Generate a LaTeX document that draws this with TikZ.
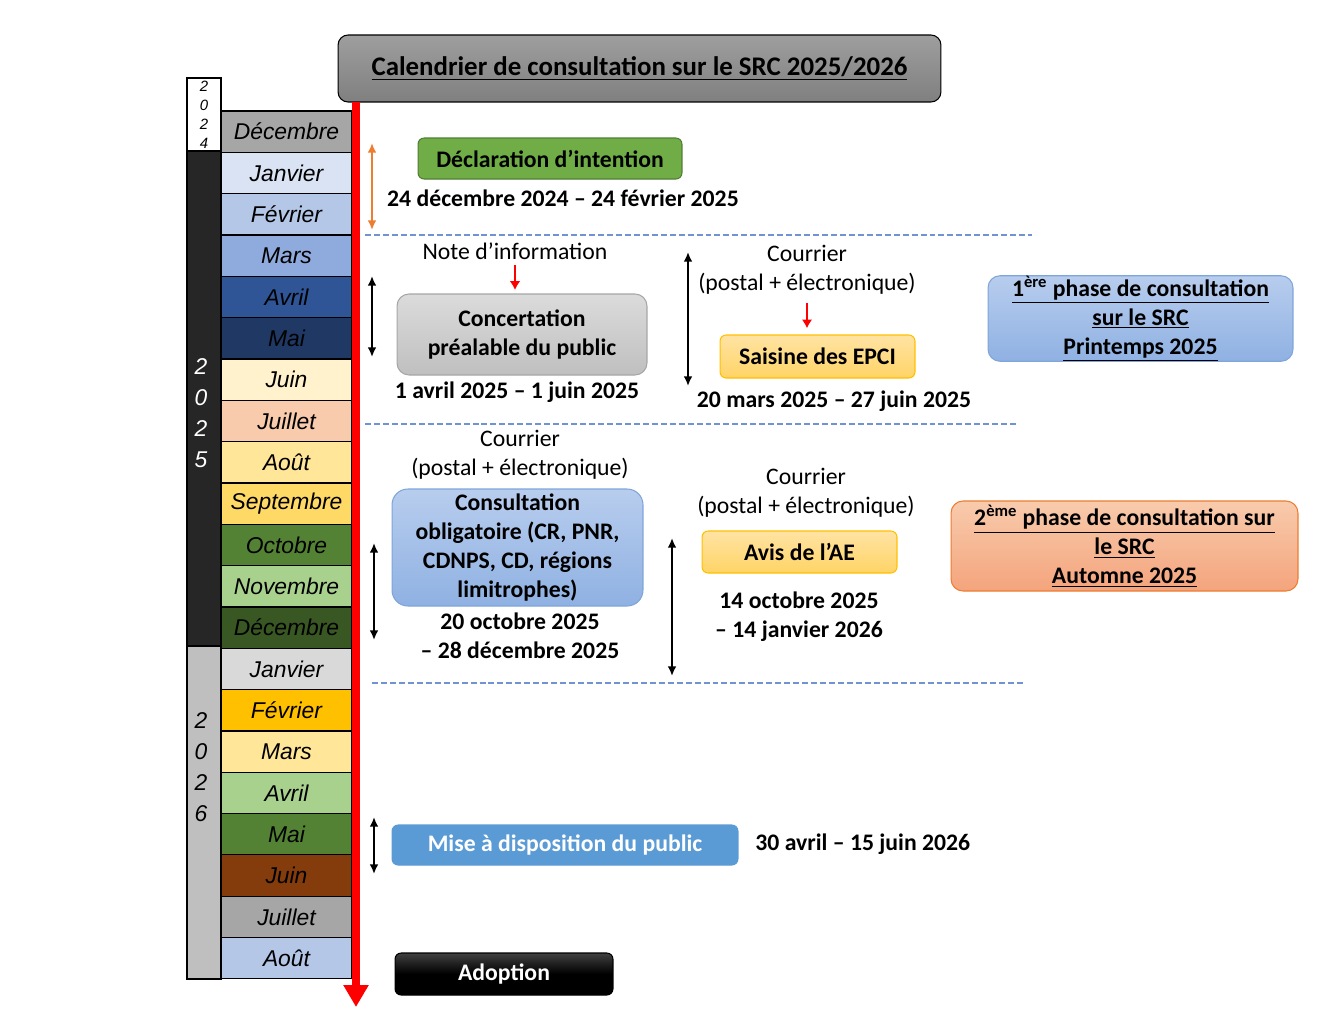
\documentclass[tikz,border=0pt]{standalone}
\usepackage{fontspec}
\setmainfont{Carlito}
\newfontfamily\arialfont{Liberation Sans}
\usepackage{xcolor}
\usetikzlibrary{arrows.meta,positioning,calc}

% month colours
\definecolor{mgray}{HTML}{A6A6A6}
\definecolor{mjan}{HTML}{DAE3F3}
\definecolor{mfeb}{HTML}{B4C7E7}
\definecolor{mmar}{HTML}{8FAADC}
\definecolor{mapr}{HTML}{2F5597}
\definecolor{mmay}{HTML}{203864}
\definecolor{mjun}{HTML}{FFF2CC}
\definecolor{mjul}{HTML}{F8CBAD}
\definecolor{maug}{HTML}{FFE699}
\definecolor{msep}{HTML}{FFD966}
\definecolor{moct}{HTML}{548235}
\definecolor{mnov}{HTML}{A9D18E}
\definecolor{mdec}{HTML}{385723}
\definecolor{mlgray}{HTML}{D9D9D9}
\definecolor{mgold}{HTML}{FFC000}
\definecolor{mbrown}{HTML}{843C0C}
\definecolor{ydark}{HTML}{262626}
\definecolor{ygray}{HTML}{BFBFBF}
% box colours
\definecolor{sepblue}{HTML}{7094D1}
\definecolor{arrorange}{HTML}{ED7D31}
\definecolor{declgreen}{HTML}{70AD47}
\definecolor{declline}{HTML}{507E32}
\definecolor{ylwtop}{HTML}{FFE3A3}
\definecolor{ylwbot}{HTML}{FFD466}
\definecolor{bluetop}{HTML}{B8CDEE}
\definecolor{bluebot}{HTML}{8FB1E2}
\definecolor{blueline}{HTML}{7FA5DA}
\definecolor{orgtop}{HTML}{F8CBAD}
\definecolor{orgbot}{HTML}{F4A47C}
\definecolor{misefill}{HTML}{5B9BD5}

\begin{document}
\begin{tikzpicture}[
    month/.style={draw=black, line width=0.6pt, minimum width=2.62cm, minimum height=0.8267cm,
        inner sep=0pt, font=\arialfont\itshape\fontsize{13}{15}\selectfont},
    txt/.style={align=center, inner sep=0pt, font=\fontsize{13.5}{16.4}\selectfont},
    btxt/.style={align=center, inner sep=0pt, font=\bfseries\fontsize{13.5}{16.4}\selectfont},
    box/.style={draw, rounded corners=3.5pt, align=center, inner sep=0pt, line width=0.6pt,
        font=\bfseries\fontsize{13.5}{16.4}\selectfont},
    span/.style={{Latex[length=5.5pt,width=5pt]}-{Latex[length=5.5pt,width=5pt]}, line width=1.2pt},
    cue/.style={-{Latex[length=5pt,width=6pt]}, red, line width=1.4pt, shorten <=3pt, shorten >=2pt},
    sep/.style={draw=sepblue, line width=0.7pt, dash pattern=on 3.4pt off 1.7pt}
]
\begin{scope}[x=0.02cm, y=-0.02cm]
    \useasboundingbox (0,0) rectangle (1344,1008);

    % Year column
    \draw[line width=0.6pt, fill=white] (187,78) rectangle (221,151);
    \draw[line width=0.6pt, fill=ydark] (187,151) rectangle (221,646);
    \draw[line width=0.6pt, fill=ygray] (187,646) rectangle (221,979);
    \node[align=center, inner sep=0pt, font=\arialfont\itshape\fontsize{8.5}{10.8}\selectfont] (y24) at (204,114.5) {2\\0\\2\\4};
    \node[align=center, inner sep=0pt, text=white, font=\arialfont\itshape\fontsize{13}{17.6}\selectfont] (y25) at (201,413) {2\\0\\2\\5};
    \node[align=center, inner sep=0pt, font=\arialfont\itshape\fontsize{13}{17.6}\selectfont] (y26) at (201,767.5) {2\\0\\2\\6};

    % Month column
    \foreach \m/\c [count=\i from 0] in {Décembre/mgray, Janvier/mjan, Février/mfeb, Mars/mmar,
        Avril/mapr, Mai/mmay, Juin/mjun, Juillet/mjul, Août/maug, Septembre/msep, Octobre/moct,
        Novembre/mnov, Décembre/mdec, Janvier/mlgray, Février/mgold, Mars/maug, Avril/mnov,
        Mai/moct, Juin/mbrown, Juillet/mgray, Août/mfeb} {
        \node[month, fill=\c] (mon\i) at (286.5,{131.67+41.33*\i}) {\m};
    }

    % Title and time line
    \node[draw, rounded corners=5.7pt, top color=black!38, bottom color=black!50, line width=0.6pt,
        minimum width=12.06cm, minimum height=1.34cm, font=\bfseries\fontsize{15.3}{18}\selectfont]
        (title) at (639.5,68.5) {\underline{Calendrier de consultation sur le SRC 2025/2026}};
    \coordinate (tltop) at (356,102);
    \coordinate (tlend) at (356,1007);
    \draw[red, line width=4.5pt, -{Triangle[width=13.6pt,length=12.5pt]}] (tltop) -- (tlend);

    % Separators
    \coordinate (s1a) at (365,235);  \coordinate (s1b) at (1032,235);
    \coordinate (s2a) at (365,424);  \coordinate (s2b) at (1018,424);
    \coordinate (s3a) at (372,683);  \coordinate (s3b) at (1025,683);
    \draw[sep] (s1a) -- (s1b);
    \draw[sep] (s2a) -- (s2b);
    \draw[sep] (s3a) -- (s3b);

    % Déclaration d'intention
    \node[box, fill=declgreen, draw=declline, minimum width=5.28cm, minimum height=0.82cm]
        (decl) at (550,158.5) {Déclaration d’intention};
    \node[btxt] (date1) at (563,198) {24 décembre 2024 – 24 février 2025};
    \coordinate (a1a) at (372,143); \coordinate (a1b) at (372,230);
    \draw[span, arrorange] (a1a) -- (a1b);

    % Concertation préalable
    \node[txt] (note) at (515,251) {Note d’information};
    \node[box, rounded corners=6.8pt, top color=black!14, bottom color=black!25, draw=black!35,
        minimum width=5.0cm, minimum height=1.62cm] (concert) at (522,334.5)
        {Concertation\\préalable du public};
    \node[btxt] (date2) at (517,392) {1 avril 2025 – 1 juin 2025};
    \draw[cue] (note.south) -- (note.south |- concert.north);
    \coordinate (a2a) at (372,276); \coordinate (a2b) at (372,357);
    \draw[span] (a2a) -- (a2b);

    % Saisine des EPCI
    \node[txt] (mail1) at (807,269.5) {Courrier\\(postal + électronique)};
    \node[box, top color=ylwtop, bottom color=ylwbot, draw=mgold, minimum width=3.9cm,
        minimum height=0.86cm] (saisine) at (817.5,356.5) {Saisine des EPCI};
    \node[btxt] (date3) at (834,401) {20 mars 2025 – 27 juin 2025};
    \draw[cue, shorten <=5pt, shorten >=3.5pt] (mail1.south) -- (mail1.south |- saisine.north);
    \coordinate (a3a) at (688,252); \coordinate (a3b) at (688,386);
    \draw[span] (a3a) -- (a3b);

    % 1st phase
    \node[box, rounded corners=6.8pt, top color=bluetop, bottom color=bluebot, draw=blueline,
        minimum width=6.1cm, minimum height=1.7cm] (phase1) at (1140.5,318.5)
        {\underline{1\textsuperscript{ère} phase de consultation}\\\underline{sur le SRC}\\\underline{Printemps 2025}};

    % Consultation obligatoire
    \node[txt] (mail2) at (520,454.5) {Courrier\\(postal + électronique)};
    \node[box, rounded corners=9pt, top color=bluetop, bottom color=bluebot, draw=blueline,
        minimum width=5.02cm, minimum height=2.34cm] (consult) at (517.5,547.5)
        {Consultation\\obligatoire (CR, PNR,\\CDNPS, CD, régions\\limitrophes)};
    \node[btxt] (date4) at (520,635.5) {20 octobre 2025\\– 28 décembre 2025};
    \coordinate (a4a) at (374,543); \coordinate (a4b) at (374,640);
    \draw[span] (a4a) -- (a4b);

    % Avis de l'AE
    \node[txt] (mail3) at (806,493) {Courrier\\(postal + électronique)};
    \node[box, top color=ylwtop, bottom color=ylwbot, draw=mgold, minimum width=3.9cm,
        minimum height=0.84cm] (avis) at (799.5,552) {Avis de l’AE};
    \node[btxt] (date5) at (799,616.5) {14 octobre 2025\\– 14 janvier 2026};
    \coordinate (a5a) at (672,538); \coordinate (a5b) at (672,676);
    \draw[span] (a5a) -- (a5b);

    % 2nd phase
    \node[box, rounded corners=6.8pt, top color=orgtop, bottom color=orgbot, draw=arrorange,
        minimum width=6.94cm, minimum height=1.8cm] (phase2) at (1124.5,546)
        {\underline{2\textsuperscript{ème} phase de consultation sur}\\\underline{le SRC}\\\underline{Automne 2025}};

    % Mise à disposition
    \node[box, fill=misefill, draw=misefill, text=white, minimum width=6.92cm, minimum height=0.8cm]
        (mise) at (565,845) {Mise à disposition du public};
    \node[btxt, anchor=west] (date6) at (755,844) {30 avril – 15 juin 2026};
    \coordinate (a6a) at (374,817); \coordinate (a6b) at (374,874);
    \draw[span] (a6a) -- (a6b);

    % Adoption
    \node[box, top color=black!75, bottom color=black, middle color=black, text=white,
        minimum width=4.36cm, minimum height=0.84cm] (adopt) at (504,974) {Adoption};
\end{scope}
\end{tikzpicture}
\end{document}
